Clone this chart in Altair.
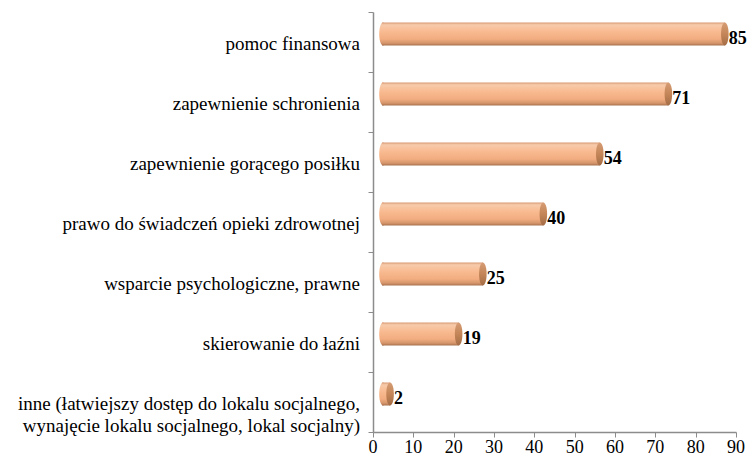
import altair as alt
import pandas as pd

categories = [
    "pomoc finansowa",
    "zapewnienie schronienia",
    "zapewnienie gorącego posiłku",
    "prawo do świadczeń opieki zdrowotnej",
    "wsparcie psychologiczne, prawne",
    "skierowanie do łaźni",
    "inne (łatwiejszy dostęp do lokalu socjalnego,\nwynajęcie lokalu socjalnego, lokal socjalny)",
]
values = [85, 71, 54, 40, 25, 19, 2]
x_ticks = [0, 10, 20, 30, 40, 50, 60, 70, 80, 90]

df = pd.DataFrame({"kategoria": categories, "wartosc": values})
tick_df = pd.DataFrame({"t": x_ticks})

FONT = "Times New Roman, Liberation Serif, serif"
PLOT_H = 420

body_grad = alt.Gradient(
    gradient="linear", x1=0, y1=0, x2=0, y2=1,
    stops=[
        alt.GradientStop(color="#D99A72", offset=0),
        alt.GradientStop(color="#F7CBAB", offset=0.1),
        alt.GradientStop(color="#F9BA90", offset=0.4),
        alt.GradientStop(color="#F2AC80", offset=0.72),
        alt.GradientStop(color="#D4946A", offset=0.9),
        alt.GradientStop(color="#A8714C", offset=1),
    ],
)
cap_grad = alt.Gradient(
    gradient="linear", x1=0, y1=0, x2=0, y2=1,
    stops=[
        alt.GradientStop(color="#D69C74", offset=0),
        alt.GradientStop(color="#C48658", offset=0.5),
        alt.GradientStop(color="#A46C46", offset=1),
    ],
)

ELLIPSE = "M0,-1A0.33,1,0,1,1,0,1A0.33,1,0,1,1,0,-1Z"

y_axis = alt.Axis(title=None, tickBand="extent", labels=False)
y_enc = alt.Y(
    "kategoria:N",
    sort=categories,
    scale=alt.Scale(paddingInner=0, paddingOuter=0),
    axis=y_axis,
)
x_scale = alt.Scale(domain=[0, 90], nice=False)
x_axis = alt.Axis(title=None, values=x_ticks, labels=False)
x_enc = alt.X("wartosc:Q", scale=x_scale, axis=x_axis)
x_start = alt.X("start:Q", scale=x_scale, axis=x_axis)

base = alt.Chart(df)

bars = base.mark_bar(
    color=body_grad, size=23, xOffset=9, x2Offset=10, yOffset=-8, y2Offset=-8
).encode(y=y_enc, x=x_enc)

left_cap = base.transform_calculate(start="0").mark_point(
    shape=ELLIPSE, size=529, filled=True, opacity=1, color=body_grad,
    strokeWidth=0, xOffset=10, yOffset=-8,
).encode(y=y_enc, x=x_start)

right_cap = base.mark_point(
    shape=ELLIPSE, size=529, filled=True, opacity=1, color=cap_grad,
    strokeWidth=0, xOffset=9, yOffset=-8,
).encode(y=y_enc, x=x_enc)

labels = base.mark_text(
    align="left", baseline="middle", dx=13, dy=-3,
    font=FONT, fontSize=18, fontWeight="bold", color="#000000",
).encode(y=y_enc, x=x_enc, text="wartosc:Q")

cat_labels = base.mark_text(
    align="right", baseline="middle", dx=-13, dy=2,
    font=FONT, fontSize=19, color="#000000",
    lineBreak="\n", lineHeight=22,
).encode(y=y_enc, x=alt.value(0), text="kategoria:N")

x_labels = alt.Chart(tick_df).mark_text(
    align="center", baseline="top",
    font=FONT, fontSize=18, color="#000000",
).encode(
    x=alt.X("t:Q", scale=x_scale, axis=x_axis),
    y=alt.value(PLOT_H + 7),
    text="t:Q",
)

chart = (
    alt.layer(bars, left_cap, right_cap, labels, cat_labels, x_labels)
    .properties(
        width=363,
        height=PLOT_H,
        autosize=alt.AutoSizeParams(type="none"),
        padding={"left": 365, "top": 4, "right": 11, "bottom": 28},
    )
    .configure(background="white", font=FONT)
    .configure_view(stroke=None)
    .configure_axis(
        grid=False,
        domainColor="#8C8C8C",
        domainWidth=1.5,
        tickColor="#8C8C8C",
        tickSize=5,
    )
)

chart.save("out.html", embed_options={"renderer": "svg", "actions": False})
